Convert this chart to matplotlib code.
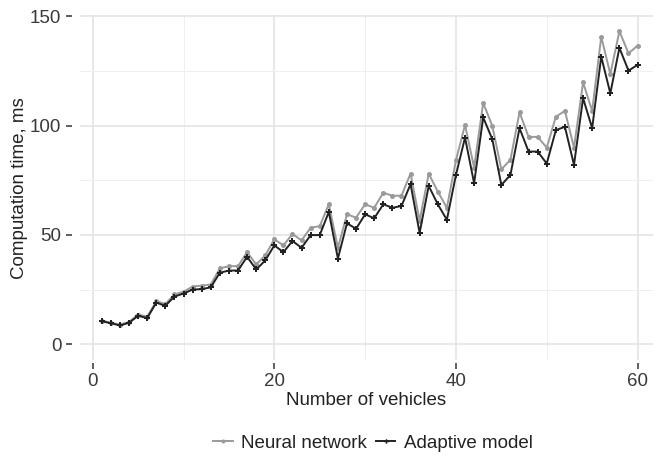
import matplotlib
matplotlib.use("Agg")
import matplotlib.pyplot as plt
from matplotlib.ticker import MultipleLocator

plt.rcParams['font.family'] = ['Liberation Sans', 'DejaVu Sans']

vehicles = list(range(1, 61))
neural = [10.8, 9.9, 9.0, 10.2, 13.6, 12.6, 19.7, 18.4, 22.8, 24.0, 26.4, 26.8,
          27.3, 34.7, 35.7, 35.7, 42.1, 36.5, 40.6, 48.0, 45.2, 50.4, 47.5, 53.3,
          54.0, 64.0, 44.1, 59.4, 57.9, 64.0, 62.4, 69.3, 67.9, 67.9, 78.0, 56.5,
          78.0, 69.8, 62.4, 84.1, 100.3, 80.8, 110.3, 99.9, 80.0, 84.3, 106.0, 94.8,
          94.8, 89.9, 104.0, 106.7, 89.9, 119.7, 106.7, 140.6, 123.5, 143.1, 133.0, 136.5]
adaptive = [10.5, 9.6, 8.6, 9.8, 13.0, 12.0, 19.0, 17.6, 21.8, 23.2, 25.0, 25.2,
            26.0, 32.7, 33.7, 33.7, 40.0, 34.2, 38.3, 45.2, 42.1, 47.2, 44.1, 49.9,
            49.9, 60.5, 39.2, 55.3, 52.8, 59.4, 57.6, 64.0, 62.4, 63.2, 73.2, 50.9,
            72.4, 64.0, 56.9, 77.4, 94.5, 73.6, 103.7, 93.8, 72.8, 77.4, 98.8, 88.1,
            88.1, 82.6, 97.9, 99.4, 82.0, 112.5, 98.8, 131.5, 114.7, 135.5, 125.1, 127.7]

fig = plt.figure(figsize=(6.56, 4.61), dpi=100)
ax = fig.add_axes([80/656, 1-360/461, (653-80)/656, (360-15.5)/461])

grey = '#9a9a9a'
dark = '#222222'
ax.plot(vehicles, neural, color=grey, lw=1.4, marker='o', ms=3.6, mew=0, label='Neural network', zorder=3)
ax.plot(vehicles, adaptive, color=dark, lw=1.4, marker='P', ms=4.0, mew=0, label='Adaptive model', zorder=4)

ax.set_xlim(-1.4, 61.7)
ax.set_ylim(-7.2, 150.3)
ax.xaxis.set_major_locator(MultipleLocator(20))
ax.xaxis.set_minor_locator(MultipleLocator(10))
ax.yaxis.set_major_locator(MultipleLocator(50))
ax.yaxis.set_minor_locator(MultipleLocator(25))

ax.grid(True, which='major', color='#e2e2e2', lw=1.1)
ax.grid(True, which='minor', color='#efefef', lw=0.7)
ax.set_axisbelow(True)

for s in ['top', 'right']:
    ax.spines[s].set_visible(False)
ax.spines['left'].set_position(('outward', 6))
ax.spines['bottom'].set_position(('outward', 2))
ax.spines['left'].set_visible(False)
ax.spines['bottom'].set_visible(False)

ax.tick_params(which='major', direction='out', length=4.5, width=1.1, color='#333333',
               labelsize=13.5, labelcolor='#3a3a3a', pad=3)
ax.tick_params(which='minor', length=0)

ax.set_xlabel('Number of vehicles', fontsize=13.5, color='#222222', labelpad=1)
ax.set_ylabel('Computation time, ms', fontsize=13.5, color='#222222', labelpad=1)

leg = fig.legend(loc='center', bbox_to_anchor=(373/656, 1-443/461), ncol=2, frameon=False,
                 fontsize=13.5, handlelength=1.05, handletextpad=0.45, columnspacing=0.45,
                 markerscale=0.8)
for t in leg.get_texts():
    t.set_color('#222222')

fig.savefig('out.png', dpi=100)
